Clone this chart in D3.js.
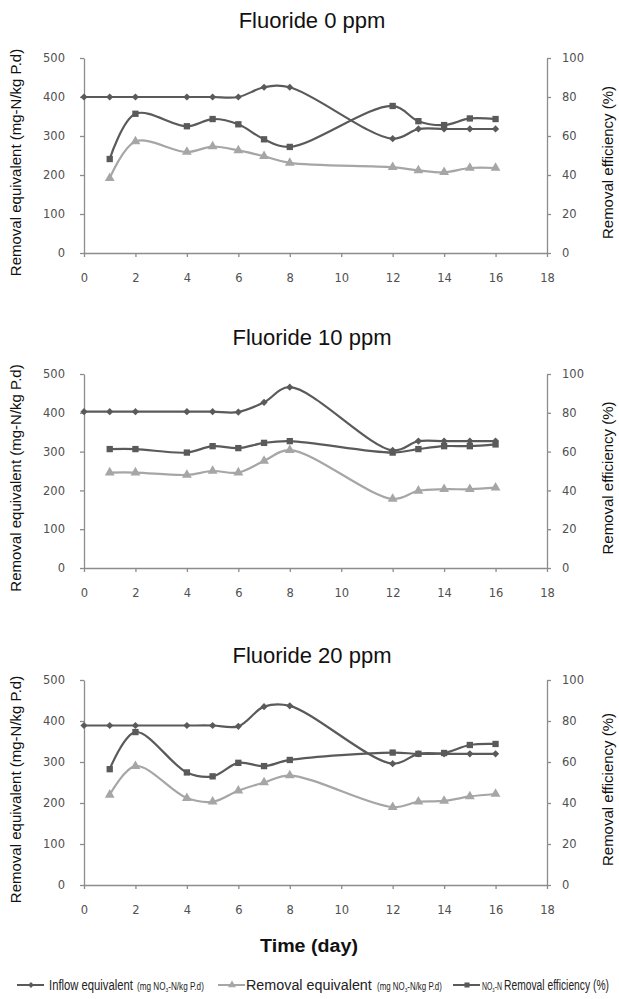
<!DOCTYPE html>
<html>
<head>
<meta charset="utf-8">
<script src="https://cdn.jsdelivr.net/npm/d3@7"></script>
<style>
  body { margin: 0; background: #fff; }
  svg { display: block; }
</style>
</head>
<body>
<script>
// sampling days (x values)
const days = [0, 1, 2, 4, 5, 6, 7, 8, 12, 13, 14, 15, 16];

// Fluoride 0 ppm
const inflow0  = [400, 400, 400, 400, 400, 400, 425, 425, 293, 318, 318, 318, 318];
const removal0 = [null, 192, 286, 259, 273, 263, 248, 231, 220, 212, 207, 218, 218];
const eff0     = [null, 48.2, 71.4, 65, 68.7, 66, 58.3, 54.4, 75.4, 67.6, 65.6, 69, 68.7];

// Fluoride 10 ppm
const inflow10  = [403, 403, 403, 403, 403, 402, 427, 466, 303, 327, 327, 327, 327];
const removal10 = [null, 246, 246, 240, 250, 246, 276, 304, 178, 199, 203, 203, 207];
const eff10     = [null, 61.3, 61.3, 59.5, 62.8, 61.8, 64.5, 65.4, 59.5, 61.3, 62.8, 62.8, 63.7];

// Fluoride 20 ppm
const inflow20  = [389, 389, 389, 389, 389, 387, 435, 437, 296, 320, 320, 320, 320];
const removal20 = [null, 220, 290, 212, 203, 230, 250, 267, 190, 203, 205, 216, 222];
const eff20     = [null, 56.5, 74.6, 54.9, 53, 59.6, 58, 61, 64.6, 64, 64.4, 68.3, 68.8];

const titles = ["Fluoride 0 ppm", "Fluoride 10 ppm", "Fluoride 20 ppm"];
const xTickValues = [0, 2, 4, 6, 8, 10, 12, 14, 16, 18];
const leftTickValues = [0, 100, 200, 300, 400, 500];
const rightTickValues = [0, 20, 40, 60, 80, 100];

const panels = [
  { title: titles[0], inflow: inflow0, removal: removal0, eff: eff0 },
  { title: titles[1], inflow: inflow10, removal: removal10, eff: eff10 },
  { title: titles[2], inflow: inflow20, removal: removal20, eff: eff20 }
];

// plot frames: y of 500 (top) and 0 (bottom) for each panel
const frames = [
  { top: 58, bottom: 253, titleY: 28 },
  { top: 374, bottom: 568, titleY: 345 },
  { top: 680, bottom: 885, titleY: 663 }
];

const width = 619, height = 999;
const x0 = 84, x1 = 547;
const darkCol = "#5a5a5a", lightCol = "#a6a6a6", axisCol = "#8c8c8c";
const tickFont = "'DejaVu Sans', sans-serif";
const labelFont = "'Liberation Sans', Arial, sans-serif";

const svg = d3.select("body").append("svg")
    .attr("width", width)
    .attr("height", height);

svg.append("rect").attr("width", width).attr("height", height).attr("fill", "#fff");

const x = d3.scaleLinear().domain([0, 18]).range([x0, x1]);

const diamond = d3.symbol().type(d3.symbolSquare).size(26);
const square = d3.symbol().type(d3.symbolSquare).size(40);
const triangle = d3.symbol().type(d3.symbolTriangle).size(42);

function styleAxis(g) {
  g.select(".domain").attr("stroke", axisCol).attr("stroke-width", 1.3);
  g.selectAll(".tick line").attr("stroke", axisCol).attr("stroke-width", 1.3);
  g.selectAll(".tick text")
    .attr("fill", "#505050")
    .style("font-family", tickFont)
    .style("font-size", "11.5px");
}

panels.forEach((p, i) => {
  const f = frames[i];
  const yL = d3.scaleLinear().domain([0, 500]).range([f.bottom, f.top]);
  const yR = d3.scaleLinear().domain([0, 100]).range([f.bottom, f.top]);
  const g = svg.append("g");

  // title
  g.append("text")
    .attr("x", 312)
    .attr("y", f.titleY)
    .attr("text-anchor", "middle")
    .style("font-family", labelFont)
    .style("font-size", "22px")
    .attr("fill", "#111")
    .text(p.title);

  // axes
  g.append("g")
    .attr("transform", `translate(${x0},0)`)
    .call(d3.axisLeft(yL).tickValues(leftTickValues).tickSize(4).tickSizeOuter(0).tickPadding(15))
    .call(styleAxis);

  g.append("g")
    .attr("transform", `translate(${x1},0)`)
    .call(d3.axisRight(yR).tickValues(rightTickValues).tickSize(4).tickSizeOuter(0).tickPadding(11))
    .call(styleAxis);

  g.append("g")
    .attr("transform", `translate(0,${f.bottom})`)
    .call(d3.axisBottom(x).tickValues(xTickValues).tickSize(4).tickSizeOuter(0).tickPadding(17))
    .call(styleAxis);

  // axis titles
  const midY = (f.top + f.bottom) / 2 + 7;
  g.append("text")
    .attr("transform", `translate(21,${midY}) rotate(-90)`)
    .attr("text-anchor", "middle")
    .style("font-family", labelFont)
    .style("font-size", "15px")
    .attr("fill", "#111")
    .text("Removal equivalent (mg-N/kg P.d)");

  g.append("text")
    .attr("transform", `translate(613,${midY}) rotate(-90)`)
    .attr("text-anchor", "middle")
    .style("font-family", labelFont)
    .style("font-size", "15px")
    .attr("fill", "#111")
    .text("Removal efficiency (%)");

  // series
  const series = [
    { vals: p.removal, y: yL, color: lightCol, sym: triangle, rot: 0 },
    { vals: p.eff, y: yR, color: darkCol, sym: square, rot: 0 },
    { vals: p.inflow, y: yL, color: darkCol, sym: diamond, rot: 45 }
  ];

  series.forEach(s => {
    const pts = days.map((d, k) => ({ day: d, v: s.vals[k] })).filter(d => d.v != null);

    const line = d3.line()
      .x(d => x(d.day))
      .y(d => s.y(d.v))
      .curve(d3.curveCatmullRom.alpha(0.5));

    g.append("path")
      .datum(pts)
      .attr("fill", "none")
      .attr("stroke", s.color)
      .attr("stroke-width", 2.2)
      .attr("d", line);

    g.selectAll(null)
      .data(pts)
      .enter().append("path")
        .attr("d", s.sym)
        .attr("transform", d => `translate(${x(d.day)},${s.y(d.v)}) rotate(${s.rot})`)
        .attr("fill", s.color);
  });
});

// squeeze a text horizontally to a target width (narrow-font look)
function squeeze(t, px, py, w) {
  const natural = t.node().getComputedTextLength();
  t.attr("transform", `translate(${px},${py}) scale(${w / natural},1)`);
}

// x axis title
const timeTitle = svg.append("text")
  .attr("text-anchor", "middle")
  .style("font-family", labelFont)
  .style("font-size", "18px")
  .style("font-weight", "bold")
  .attr("fill", "#111")
  .text("Time (day)");
squeeze(timeTitle, 309, 952, 98);

// legend
const legendY = 985;
const legendItems = [
  { x: 17, color: darkCol, sym: diamond, rot: 45,
    parts: [{ t: "Inflow equivalent", dx: 32, w: 84, small: false },
            { t: "unit", dx: 120, w: 67, small: true }] },
  { x: 218, color: lightCol, sym: triangle, rot: 0,
    parts: [{ t: "Removal equivalent", dx: 28, w: 126, small: false },
            { t: "unit", dx: 159, w: 65, small: true }] },
  { x: 453, color: darkCol, sym: square, rot: 0,
    parts: [{ t: "no3", dx: 29, w: 20, small: true },
            { t: "Removal efficiency (%)", dx: 51, w: 105, small: false }] }
];

legendItems.forEach(it => {
  const lg = svg.append("g").attr("transform", `translate(${it.x},${legendY})`);
  lg.append("line")
    .attr("x1", 0).attr("x2", 27)
    .attr("stroke", it.color).attr("stroke-width", 2);
  lg.append("path")
    .attr("d", it.sym)
    .attr("transform", `translate(14,0) rotate(${it.rot}) scale(0.8)`)
    .attr("fill", it.color);

  it.parts.forEach(pt => {
    const t = lg.append("text")
      .style("font-family", labelFont)
      .style("font-size", pt.small ? "10px" : "15px")
      .attr("fill", "#222");
    if (pt.t === "unit") {
      t.append("tspan").text("(mg NO");
      t.append("tspan").attr("dy", 2).style("font-size", "6px").text("3");
      t.append("tspan").attr("dy", -2).text("-N/kg P.d)");
    } else if (pt.t === "no3") {
      t.append("tspan").text("NO");
      t.append("tspan").attr("dy", 2).style("font-size", "6px").text("3");
      t.append("tspan").attr("dy", -2).text("-N");
    } else {
      t.text(pt.t);
    }
    squeeze(t, pt.dx, 5, pt.w);
  });
});
</script>
</body>
</html>
